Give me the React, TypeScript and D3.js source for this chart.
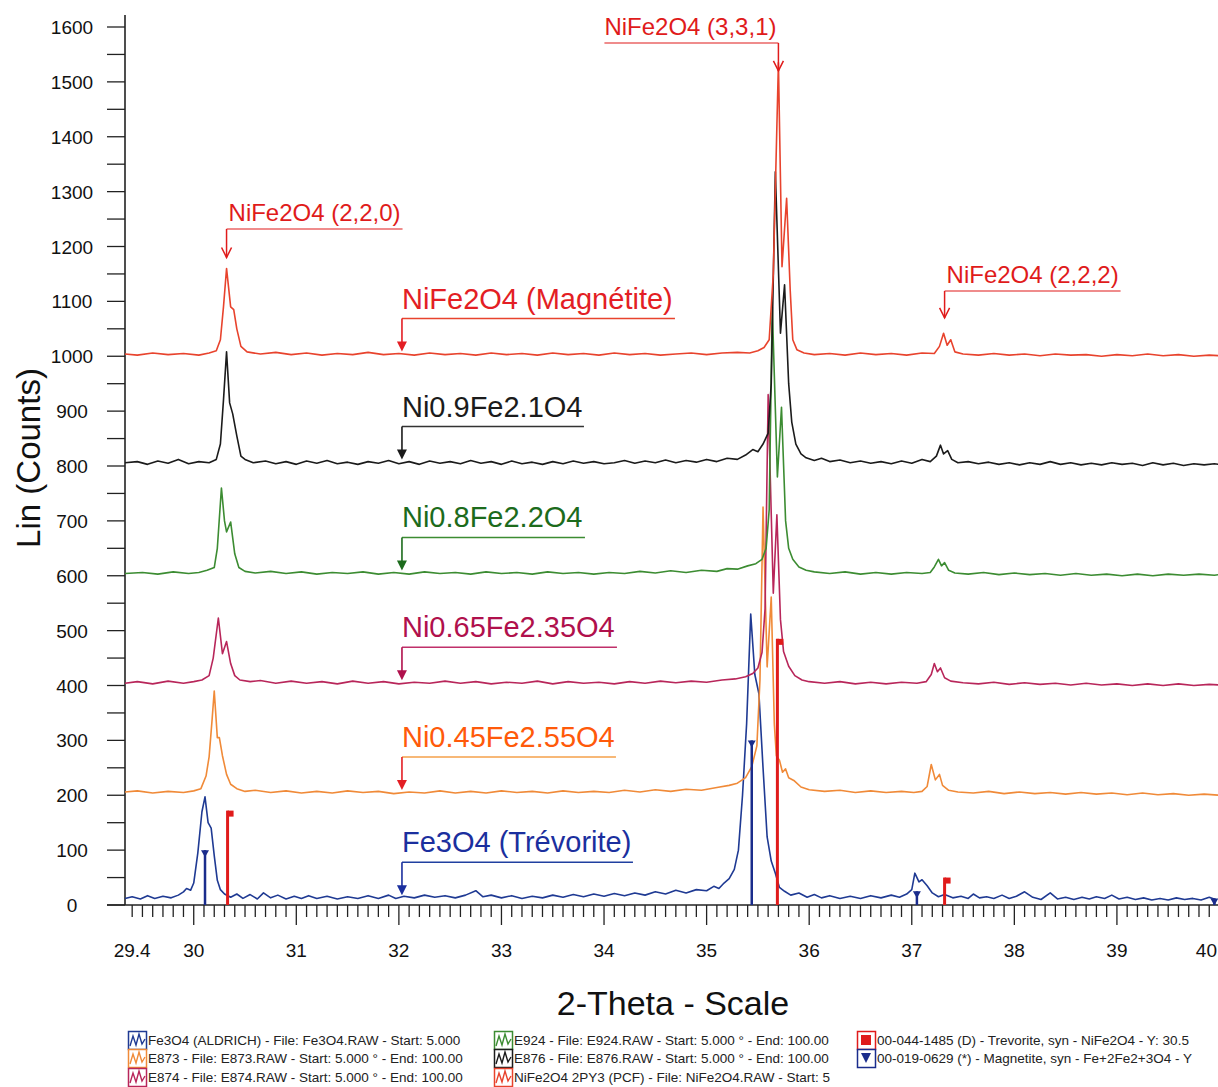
import React from "react";
import * as d3 from "d3";

// ---------- DATA (2-theta, Lin counts) ----------
const nife2o4: [number, number][] = [[29.33,1004],[29.45,1002],[29.6,1006],[29.75,1003],[29.9,1005],[30.05,1002],[30.15,1006],[30.22,1010],[30.26,1030],[30.29,1090],[30.32,1160],[30.36,1090],[30.39,1085],[30.42,1050],[30.46,1018],[30.52,1008],[30.65,1004],[30.8,1007],[30.95,1003],[31.1,1006],[31.25,1002],[31.4,1005],[31.55,1003],[31.7,1007],[31.85,1003],[32.0,1005],[32.15,1002],[32.3,1006],[32.45,1003],[32.6,1005],[32.75,1002],[32.9,1006],[33.05,1003],[33.2,1005],[33.35,1002],[33.5,1006],[33.65,1003],[33.8,1005],[33.95,1002],[34.1,1006],[34.25,1003],[34.4,1005],[34.55,1002],[34.7,1004],[34.85,1006],[35.0,1003],[35.15,1006],[35.3,1007],[35.42,1006],[35.5,1010],[35.56,1016],[35.61,1030],[35.65,1150],[35.70,1535],[35.735,1163],[35.78,1288],[35.815,1120],[35.84,1030],[35.88,1012],[35.95,1006],[36.05,1003],[36.2,1005],[36.35,1002],[36.5,1006],[36.65,1003],[36.8,1005],[36.95,1002],[37.1,1006],[37.22,1005],[37.27,1018],[37.31,1042],[37.345,1020],[37.38,1030],[37.42,1008],[37.5,1004],[37.65,1002],[37.8,1005],[37.95,1002],[38.1,1004],[38.25,1001],[38.4,1004],[38.55,1002],[38.7,1003],[38.85,1000],[39.0,1003],[39.15,1001],[39.3,1004],[39.45,1001],[39.6,1003],[39.75,1000],[39.9,1002],[40.0,1001]];

const ni09: [number, number][] = [[29.33,806],[29.45,808],[29.55,803],[29.65,809],[29.75,805],[29.85,812],[29.95,804],[30.05,808],[30.15,806],[30.22,812],[30.26,840],[30.29,920],[30.32,1008],[30.35,915],[30.38,895],[30.42,855],[30.46,818],[30.5,812],[30.58,806],[30.7,809],[30.8,804],[30.9,808],[31.0,803],[31.1,809],[31.2,805],[31.3,810],[31.4,804],[31.5,807],[31.6,803],[31.7,808],[31.8,805],[31.9,810],[32.0,804],[32.1,808],[32.2,803],[32.3,809],[32.4,805],[32.5,808],[32.6,804],[32.7,810],[32.8,805],[32.9,808],[33.0,803],[33.1,809],[33.2,804],[33.3,807],[33.4,803],[33.5,808],[33.6,804],[33.7,809],[33.8,805],[33.9,808],[34.0,804],[34.1,806],[34.2,810],[34.3,805],[34.4,809],[34.5,806],[34.6,811],[34.7,806],[34.8,810],[34.9,807],[35.0,812],[35.1,808],[35.2,814],[35.3,812],[35.38,820],[35.45,830],[35.5,826],[35.55,840],[35.6,860],[35.63,950],[35.67,1336],[35.72,1042],[35.76,1130],[35.8,950],[35.83,880],[35.87,840],[35.92,822],[35.97,815],[36.05,810],[36.12,814],[36.2,808],[36.3,811],[36.4,806],[36.5,809],[36.6,805],[36.7,808],[36.8,804],[36.9,809],[37.0,805],[37.1,812],[37.18,808],[37.24,818],[37.28,838],[37.31,822],[37.35,828],[37.39,812],[37.45,806],[37.55,808],[37.65,804],[37.75,807],[37.85,803],[37.95,806],[38.05,802],[38.15,806],[38.25,803],[38.35,808],[38.45,803],[38.55,806],[38.65,802],[38.75,805],[38.85,802],[38.95,806],[39.05,803],[39.15,805],[39.25,801],[39.35,806],[39.45,802],[39.55,805],[39.65,801],[39.75,804],[39.85,802],[39.95,804],[40.0,803]];

const ni08: [number, number][] = [[29.33,604],[29.5,606],[29.65,603],[29.8,607],[29.95,604],[30.05,606],[30.13,610],[30.2,615],[30.23,650],[30.27,760],[30.3,700],[30.32,680],[30.36,698],[30.4,640],[30.44,615],[30.5,608],[30.6,605],[30.75,608],[30.9,604],[31.05,607],[31.2,603],[31.35,606],[31.5,604],[31.65,607],[31.8,603],[31.95,606],[32.1,603],[32.25,607],[32.4,604],[32.55,606],[32.7,603],[32.85,607],[33.0,604],[33.15,606],[33.3,603],[33.45,607],[33.6,604],[33.75,606],[33.9,603],[34.05,606],[34.2,604],[34.35,608],[34.5,605],[34.65,609],[34.8,606],[34.95,610],[35.1,608],[35.2,613],[35.3,612],[35.4,618],[35.48,622],[35.54,630],[35.58,650],[35.61,720],[35.64,1090],[35.69,780],[35.73,907],[35.77,700],[35.8,650],[35.84,630],[35.9,616],[35.97,610],[36.05,607],[36.2,604],[36.35,607],[36.5,603],[36.65,606],[36.8,603],[36.95,606],[37.1,604],[37.18,606],[37.22,616],[37.26,630],[37.29,618],[37.32,624],[37.36,610],[37.42,605],[37.55,603],[37.7,606],[37.85,602],[38.0,605],[38.15,602],[38.3,604],[38.45,601],[38.6,604],[38.75,601],[38.9,603],[39.05,600],[39.2,603],[39.35,600],[39.5,603],[39.65,601],[39.8,603],[39.95,601],[40.0,602]];

const ni065: [number, number][] = [[29.33,404],[29.45,407],[29.6,403],[29.75,408],[29.9,404],[30.0,407],[30.08,410],[30.15,418],[30.19,450],[30.24,523],[30.28,458],[30.32,480],[30.36,440],[30.4,418],[30.45,410],[30.55,407],[30.65,409],[30.8,404],[30.95,408],[31.1,404],[31.25,407],[31.4,403],[31.55,408],[31.7,404],[31.85,407],[32.0,403],[32.15,406],[32.3,404],[32.45,408],[32.6,404],[32.75,407],[32.9,403],[33.05,406],[33.2,404],[33.35,408],[33.5,403],[33.65,407],[33.8,404],[33.95,406],[34.1,403],[34.25,407],[34.4,404],[34.55,408],[34.7,405],[34.85,408],[35.0,406],[35.15,410],[35.28,412],[35.38,416],[35.45,422],[35.5,432],[35.54,460],[35.57,540],[35.6,930],[35.65,568],[35.685,711],[35.72,520],[35.75,462],[35.8,435],[35.86,418],[35.93,410],[36.0,407],[36.15,404],[36.3,407],[36.45,403],[36.6,406],[36.75,403],[36.9,406],[37.05,404],[37.14,407],[37.19,420],[37.22,440],[37.25,425],[37.28,432],[37.32,414],[37.38,408],[37.5,405],[37.65,403],[37.8,406],[37.95,402],[38.1,405],[38.25,402],[38.4,404],[38.55,401],[38.7,404],[38.85,401],[39.0,403],[39.15,400],[39.3,403],[39.45,400],[39.6,403],[39.75,400],[39.9,402],[40.0,401]];

const ni045: [number, number][] = [[29.33,206],[29.45,208],[29.6,204],[29.75,207],[29.9,205],[30.0,208],[30.07,212],[30.12,235],[30.15,270],[30.18,340],[30.2,390],[30.23,305],[30.25,305],[30.28,272],[30.32,238],[30.36,220],[30.42,212],[30.5,207],[30.6,209],[30.75,205],[30.9,208],[31.05,204],[31.2,207],[31.35,204],[31.5,208],[31.65,205],[31.8,207],[31.95,203],[32.1,206],[32.25,204],[32.4,208],[32.55,204],[32.7,207],[32.85,204],[33.0,208],[33.15,205],[33.3,207],[33.45,204],[33.6,208],[33.75,205],[33.9,207],[34.05,205],[34.2,209],[34.35,206],[34.5,210],[34.65,207],[34.8,211],[34.95,209],[35.1,214],[35.22,218],[35.3,222],[35.38,232],[35.44,252],[35.49,290],[35.52,410],[35.55,725],[35.59,434],[35.63,561],[35.66,330],[35.68,272],[35.71,264],[35.74,242],[35.77,248],[35.8,232],[35.85,227],[35.92,215],[36.0,210],[36.15,207],[36.3,209],[36.45,205],[36.6,208],[36.75,205],[36.9,207],[37.02,205],[37.1,207],[37.15,216],[37.19,256],[37.23,228],[37.27,238],[37.3,218],[37.36,209],[37.45,206],[37.6,204],[37.75,207],[37.9,203],[38.05,206],[38.2,203],[38.35,205],[38.5,202],[38.65,205],[38.8,202],[38.95,204],[39.1,201],[39.25,204],[39.4,201],[39.55,203],[39.7,200],[39.85,202],[40.0,200]];

const fe3o4: [number, number][] = [[29.33,12],[29.4,15],[29.48,11],[29.55,17],[29.62,12],[29.7,16],[29.78,13],[29.85,18],[29.9,24],[29.93,30],[29.97,27],[30.0,40],[30.04,95],[30.08,170],[30.11,197],[30.14,150],[30.17,140],[30.2,90],[30.23,45],[30.26,28],[30.3,20],[30.36,14],[30.42,20],[30.48,12],[30.55,19],[30.62,11],[30.68,22],[30.75,13],[30.82,18],[30.9,11],[30.98,16],[31.05,12],[31.12,17],[31.2,12],[31.3,16],[31.4,11],[31.5,15],[31.6,12],[31.7,17],[31.8,12],[31.9,18],[31.97,12],[32.05,16],[32.15,13],[32.25,18],[32.35,14],[32.45,17],[32.55,13],[32.65,18],[32.75,26],[32.82,15],[32.9,18],[33.0,13],[33.1,17],[33.2,12],[33.3,16],[33.4,13],[33.5,18],[33.6,14],[33.7,19],[33.8,15],[33.9,20],[34.0,16],[34.1,21],[34.2,17],[34.3,22],[34.4,18],[34.5,24],[34.6,20],[34.7,27],[34.8,22],[34.9,28],[35.0,26],[35.07,34],[35.12,30],[35.17,40],[35.22,48],[35.27,65],[35.31,100],[35.35,200],[35.39,330],[35.43,530],[35.47,420],[35.51,385],[35.55,250],[35.59,124],[35.63,80],[35.67,58],[35.71,32],[35.76,25],[35.82,18],[35.9,22],[35.98,14],[36.05,19],[36.12,13],[36.2,17],[36.3,12],[36.4,16],[36.5,12],[36.6,17],[36.7,13],[36.8,18],[36.88,14],[36.95,20],[37.0,28],[37.03,58],[37.07,42],[37.1,46],[37.15,35],[37.2,22],[37.26,15],[37.32,19],[37.4,13],[37.48,16],[37.55,12],[37.6,20],[37.66,13],[37.73,15],[37.8,12],[37.88,18],[37.95,12],[38.02,16],[38.1,24],[38.18,14],[38.26,10],[38.35,22],[38.42,11],[38.5,14],[38.58,10],[38.66,14],[38.73,11],[38.8,15],[38.88,12],[38.95,18],[39.02,11],[39.1,14],[39.18,10],[39.26,13],[39.34,9],[39.42,12],[39.5,9],[39.58,13],[39.66,10],[39.74,12],[39.82,9],[39.9,14],[39.96,10]];

// reference patterns (stick positions, heights)
const trevoriteSticks: [number, number][] = [[30.33, 172], [35.69, 485], [37.32, 50]];
const magnetiteSticks: [number, number][] = [[30.11, 100], [35.44, 300], [37.05, 25], [39.95, 12]];

// tick labels
const xTickValues = [29.4, 30, 31, 32, 33, 34, 35, 36, 37, 38, 39, 40];
const xTickLabels = ["29.4", "30", "31", "32", "33", "34", "35", "36", "37", "38", "39", "40"];
const yTickValues = [0, 100, 200, 300, 400, 500, 600, 700, 800, 900, 1000, 1100, 1200, 1300, 1400, 1500, 1600];

// series label annotations
const seriesNames = ["NiFe2O4 (Magnétite)", "Ni0.9Fe2.1O4", "Ni0.8Fe2.2O4", "Ni0.65Fe2.35O4", "Ni0.45Fe2.55O4", "Fe3O4 (Trévorite)"];
const seriesBaselines = [1005, 808, 606, 406, 206, 14];
const seriesData = [nife2o4, ni09, ni08, ni065, ni045, fe3o4];

// hkl annotations
const hklLabels = ["NiFe2O4 (2,2,0)", "NiFe2O4 (3,3,1)", "NiFe2O4 (2,2,2)"];
const hklTheta = [30.32, 35.7, 37.32];
const hklTipValue = [1180, 1520, 1070];

// legend
const legendTexts = [
  "Fe3O4 (ALDRICH) - File: Fe3O4.RAW - Start: 5.000",
  "E873 - File: E873.RAW - Start: 5.000 ° - End: 100.00",
  "E874 - File: E874.RAW - Start: 5.000 ° - End: 100.00",
  "E924 - File: E924.RAW - Start: 5.000 ° - End: 100.00",
  "E876 - File: E876.RAW - Start: 5.000 ° - End: 100.00",
  "NiFe2O4 2PY3 (PCF) - File: NiFe2O4.RAW - Start: 5",
  "00-044-1485 (D) - Trevorite, syn - NiFe2O4 - Y: 30.5",
  "00-019-0629 (*) - Magnetite, syn - Fe+2Fe2+3O4 - Y",
];

// ---------- STYLE ----------
const lineColors = ["#e8432d", "#1b1b1b", "#3c8c32", "#b8265a", "#f08a38", "#1f3a93"];
const textColors = ["#e31e24", "#1b1b1b", "#1c6b1c", "#b0104c", "#ff5a0a", "#1b2f9e"];
const arrowColors = ["#e31e24", "#1b1b1b", "#1c6b1c", "#b0104c", "#e31e24", "#1b2f9e"];
const lineStyleColors = ["#e8432d", "#333333", "#3c8c32", "#c0306a", "#f5a04a", "#2040a0"];
const RED = "#e01b1b";
const NAVY = "#1a2c8c";
const FONT = "'Liberation Sans', Arial, Helvetica, sans-serif";

export default function App() {
  const W = 1218, H = 1087;
  const x = d3.scaleLinear().domain([29.33, 40]).range([125, 1219.5]);
  const y = d3.scaleLinear().domain([0, 1600]).range([905, 27]);
  const line = d3.line<[number, number]>().x(d => x(d[0])).y(d => y(d[1]));

  const minorTicks = d3.range(294, 401).map(v => v / 10);
  const yMinor = d3.range(0, 1601, 50);

  const labelX = x(32.03);

  // draw order: bottom series first
  const order = [5, 4, 3, 2, 1, 0];

  const legendPos = [
    [128, 1031], [128, 1049], [128, 1068],
    [494, 1031], [494, 1049], [494, 1068],
    [857, 1031], [857, 1049],
  ];
  const legendColors = ["#1f3a93", "#f08a38", "#b8265a", "#3c8c32", "#1b1b1b", "#e8432d", RED, NAVY];

  return (
    <svg width={W} height={H} style={{ position: "absolute", left: 0, top: 0, background: "#fff" }} fontFamily={FONT}>
      <rect x={0} y={0} width={W} height={H} fill="#fff" />
      {/* Axes */}
      <line x1={125} x2={125} y1={15} y2={905} stroke="#222" strokeWidth={1.6} />
      <line x1={107} x2={1218} y1={905} y2={905} stroke="#222" strokeWidth={1.6} />
      {yMinor.map(v => (
        <line key={"ym" + v} x1={107} x2={125} y1={y(v)} y2={y(v)} stroke="#222" strokeWidth={1.3} />
      ))}
      {yTickValues.map(v => (
        <text key={"yl" + v} x={72} y={y(v) + 7} fontSize={19} textAnchor="middle" fill="#111">{v}</text>
      ))}
      {minorTicks.map(v => {
        const major = Math.abs(v - Math.round(v)) < 1e-6;
        return <line key={"xm" + v} x1={x(v)} x2={x(v)} y1={905} y2={major ? 925 : 917} stroke="#222" strokeWidth={1.3} />;
      })}
      {xTickValues.map((v, i) => {
        const last = i === xTickValues.length - 1;
        return (
          <text key={"xl" + v} x={last ? 1217 : x(v)} y={957} fontSize={19} textAnchor={last ? "end" : "middle"} fill="#111">{xTickLabels[i]}</text>
        );
      })}
      <text x={0} y={0} transform={`translate(40,458) rotate(-90)`} fontSize={33} textAnchor="middle" fill="#111">Lin (Counts)</text>
      <text x={673} y={1015} fontSize={34} textAnchor="middle" fill="#111">2-Theta - Scale</text>

      {/* Data series */}
      {order.map(i => (
        <path key={"s" + i} d={line(seriesData[i]) || ""} fill="none" stroke={lineColors[i]} strokeWidth={1.6} strokeLinejoin="round" />
      ))}

      {/* Reference sticks */}
      {magnetiteSticks.map(([t, v], i) => (
        <g key={"mg" + i}>
          <line x1={x(t)} x2={x(t)} y1={905} y2={y(v)} stroke={NAVY} strokeWidth={2.5} />
          <path d={`M${x(t) - 4},${y(v)} L${x(t) + 4},${y(v)} L${x(t)},${y(v) + 7} Z`} fill={NAVY} />
        </g>
      ))}
      {trevoriteSticks.map(([t, v], i) => (
        <g key={"tr" + i}>
          <line x1={x(t)} x2={x(t)} y1={905} y2={y(v)} stroke={RED} strokeWidth={3} />
          <rect x={x(t)} y={y(v)} width={6} height={6} fill={RED} />
        </g>
      ))}

      {/* hkl annotations */}
      {hklLabels.map((s, i) => {
        const tx = x(hklTheta[i]);
        const tipY = y(hklTipValue[i]);
        const lineY = i === 0 ? 229 : i === 1 ? 43 : 291;
        const startX = i === 1 ? tx - 174 : tx;
        const endX = i === 1 ? tx : tx + 176;
        return (
          <g key={"hkl" + i}>
            <text x={i === 1 ? startX : tx + 2} y={lineY - 8} fontSize={24} fill={RED}>{s}</text>
            <line x1={startX} x2={endX} y1={lineY} y2={lineY} stroke={RED} strokeWidth={1.2} />
            <line x1={tx} x2={tx} y1={lineY} y2={tipY} stroke={RED} strokeWidth={1.5} />
            <path d={`M${tx - 5},${tipY - 10} L${tx},${tipY} L${tx + 5},${tipY - 10}`} fill="none" stroke={RED} strokeWidth={1.5} />
          </g>
        );
      })}

      {/* series labels */}
      {seriesNames.map((s, i) => {
        const tipY = y(seriesBaselines[i]) - 2;
        const lineY = tipY - 33;
        const lineLen = [273, 182, 183, 215, 214, 231][i];
        return (
          <g key={"lab" + i}>
            <text x={labelX} y={lineY - 10} fontSize={29} fill={textColors[i]}>{s}</text>
            <line x1={labelX} x2={labelX + lineLen} y1={lineY} y2={lineY} stroke={lineStyleColors[i]} strokeWidth={1.5} />
            <line x1={labelX} x2={labelX} y1={lineY} y2={tipY - 8} stroke={arrowColors[i]} strokeWidth={1.6} />
            <path d={`M${labelX - 5},${tipY - 10} L${labelX + 5},${tipY - 10} L${labelX},${tipY} Z`} fill={arrowColors[i]} />
          </g>
        );
      })}

      {/* Legend */}
      {legendTexts.map((t, i) => {
        const [lx, ly] = legendPos[i];
        const c = legendColors[i];
        let icon;
        if (i === 6) {
          icon = <rect x={lx + 4} y={ly + 4} width={10} height={10} fill={c} />;
        } else if (i === 7) {
          icon = <path d={`M${lx + 4},${ly + 4} L${lx + 14},${ly + 4} L${lx + 9},${ly + 14} Z`} fill={c} />;
        } else {
          icon = <path d={`M${lx + 2},${ly + 15} L${lx + 5},${ly + 5} L${lx + 8},${ly + 14} L${lx + 11},${ly + 3} L${lx + 14},${ly + 13} L${lx + 17},${ly + 8}`} fill="none" stroke={c} strokeWidth={1.4} />;
        }
        return (
          <g key={"lg" + i}>
            <rect x={lx + 0.5} y={ly + 0.5} width={18} height={18} fill="#fff" stroke={c} strokeWidth={1.5} />
            {icon}
            <text x={lx + 20} y={ly + 14} fontSize={13.5} fill="#222">{t}</text>
          </g>
        );
      })}
    </svg>
  );
}
